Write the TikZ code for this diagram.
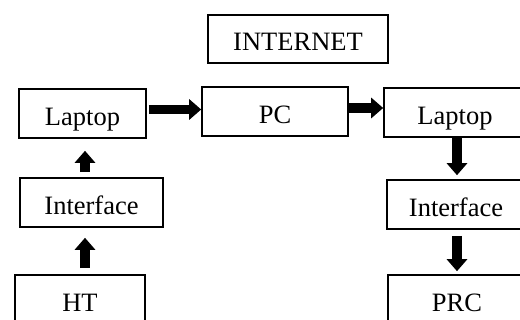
\documentclass[tikz,border=0pt]{standalone}
\usepackage{fontspec}
\setmainfont{Liberation Serif}
\usetikzlibrary{arrows.meta}
\begin{document}
\begin{tikzpicture}[x=1pt,y=-1pt,
  box/.style={draw=black,line width=1.6pt,fill=white,inner sep=0pt,text height=24pt,text depth=0pt,font=\fontsize{26.5}{30}\selectfont},
  bigarrow/.style={line width=9.5pt,-{Triangle[width=20pt,length=12pt]}}]
\useasboundingbox (0,0) rectangle (520,320);
\clip (0,0) rectangle (520,320);
\node[box,minimum width=180pt,minimum height=48pt] (inet) at (298,39) {INTERNET};
\node[box,minimum width=127pt,minimum height=49pt] (lap1) at (82.5,113.5) {Laptop};
\node[box,minimum width=146pt,minimum height=49pt] (pc) at (275,111.5) {PC};
\node[box,minimum width=142pt,minimum height=49pt] (lap2) at (455,112.5) {Laptop};
\node[box,minimum width=143pt,minimum height=49pt] (if1) at (91.5,202.5) {Interface};
\node[box,minimum width=138pt,minimum height=49pt] (if2) at (456,204.5) {Interface};
\node[box,minimum width=130pt,minimum height=49pt] (ht) at (80,299.5) {HT};
\node[box,minimum width=138pt,minimum height=49pt] (prc) at (457,299.5) {PRC};
\draw[bigarrow,shorten <=2pt] (lap1.east |- 0,109.5) -- (pc.west |- 0,109.5);
\draw[bigarrow] (pc.east |- 0,108) -- (lap2.west |- 0,108);
\draw[bigarrow,shorten <=5pt,shorten >=12pt] (if1.north -| 85,0) -- (lap1.south -| 85,0);
\draw[bigarrow,shorten <=6pt,shorten >=10pt] (ht.north -| 85,0) -- (if1.south -| 85,0);
\draw[bigarrow,shorten >=4pt] (lap2.south -| 457,0) -- (if2.north -| 457,0);
\draw[bigarrow,shorten <=6pt,shorten >=3pt] (if2.south -| 457,0) -- (prc.north -| 457,0);
\end{tikzpicture}
\end{document}
